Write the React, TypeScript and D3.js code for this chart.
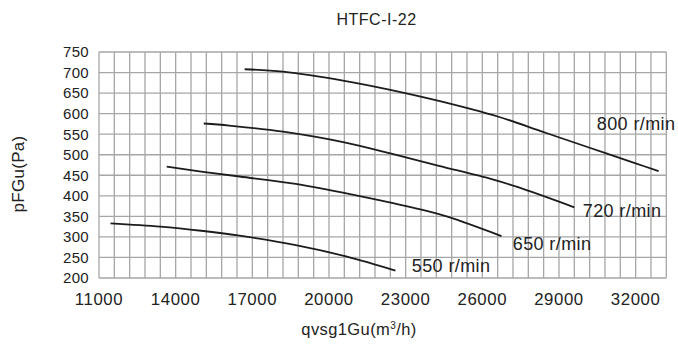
import { useEffect, useRef } from "react";
import * as d3 from "d3";

// fan curves
const speedLabels = ["800 r/min", "720 r/min", "650 r/min", "550 r/min"];

const q800 = [16700, 18200, 20600, 22400, 24300, 26600, 28400, 30200, 32000, 32900];
const p800 = [708, 702, 680, 658, 631, 593, 555, 517, 479, 460];

const q720 = [15100, 16100, 18200, 20600, 22400, 24300, 26400, 27400, 29600];
const p720 = [576, 571, 556, 530, 503, 473, 440, 421, 372];

const q650 = [13650, 15000, 16500, 18700, 21300, 23900, 24700, 26750];
const p650 = [471, 459, 447, 429, 398, 362, 348, 302];

const q550 = [11450, 13400, 15000, 16500, 18700, 20700, 22600];
const p550 = [333, 325, 315, 303, 280, 252, 218];

// where each speed label sits (data units, text start / baseline)
const labelQ = [30480, 29930, 27190, 23240];
const labelP = [560, 349, 267, 215];

const xTicks = [11000, 14000, 17000, 20000, 23000, 26000, 29000, 32000];
const yTicks = [200, 250, 300, 350, 400, 450, 500, 550, 600, 650, 700, 750];

const FONT = "'Liberation Sans', Arial, Helvetica, sans-serif";

export default function App() {
    const svgRef = useRef<SVGSVGElement>(null);

    useEffect(() => {
        if (!svgRef.current) return;
        const width = 678;
        const height = 344;
        const margin = { top: 52, right: 11.7, bottom: 66, left: 99 };

        const svg = d3.select(svgRef.current);
        svg.selectAll("*").remove();
        svg.attr("width", width).attr("height", height);

        const x = d3
            .scaleLinear()
            .domain([11000, 33200])
            .range([margin.left, width - margin.right]);
        const y = d3
            .scaleLinear()
            .domain([200, 750])
            .range([height - margin.bottom, margin.top]);

        // grid
        const grid = svg.append("g").attr("stroke", "#a6a6a6").attr("stroke-width", 1.3);
        d3.range(11000, 33201, 600).forEach((v) => {
            grid.append("line")
                .attr("x1", x(v)).attr("x2", x(v))
                .attr("y1", y(200)).attr("y2", y(750));
        });
        yTicks.forEach((v) => {
            grid.append("line")
                .attr("x1", x(11000)).attr("x2", x(33200))
                .attr("y1", y(v)).attr("y2", y(v));
        });

        // tick labels
        svg.append("g")
            .selectAll("text")
            .data(yTicks)
            .enter()
            .append("text")
            .attr("x", margin.left - 10)
            .attr("y", (d) => y(d))
            .attr("dy", "0.36em")
            .attr("text-anchor", "end")
            .attr("font-family", FONT)
            .attr("font-size", "15px")
            .style("letter-spacing", "0.3px")
            .attr("fill", "#222")
            .text((d) => d);

        svg.append("g")
            .selectAll("text")
            .data(xTicks)
            .enter()
            .append("text")
            .attr("x", (d) => x(d))
            .attr("y", 305)
            .attr("text-anchor", "middle")
            .attr("font-family", FONT)
            .attr("font-size", "16.8px")
            .style("letter-spacing", "0.6px")
            .attr("fill", "#222")
            .text((d) => d);

        // curves
        const series = [
            [q800, p800],
            [q720, p720],
            [q650, p650],
            [q550, p550],
        ];
        const line = d3
            .line<[number, number]>()
            .x((d) => x(d[0]))
            .y((d) => y(d[1]))
            .curve(d3.curveCatmullRom.alpha(0.5));

        series.forEach(([qs, ps], i) => {
            const pts = qs.map((q, j) => [q, ps[j]] as [number, number]);
            svg.append("path")
                .attr("d", line(pts))
                .attr("fill", "none")
                .attr("stroke", "#1c1c1c")
                .attr("stroke-width", 1.8);

            svg.append("text")
                .attr("x", x(labelQ[i]))
                .attr("y", y(labelP[i]))
                .attr("font-family", FONT)
                .attr("font-size", "18px")
                .style("letter-spacing", "0.4px")
                .attr("fill", "#222")
                .text(speedLabels[i]);
        });

        // titles
        svg.append("text")
            .attr("x", 376.5)
            .attr("y", 25)
            .attr("text-anchor", "middle")
            .attr("font-family", FONT)
            .attr("font-size", "16px")
            .style("letter-spacing", "0.5px")
            .attr("fill", "#222")
            .text("HTFC-I-22");

        const xt = svg.append("text")
            .attr("x", 359)
            .attr("y", 335)
            .attr("text-anchor", "middle")
            .attr("font-family", FONT)
            .attr("font-size", "16.5px")
            .style("letter-spacing", "0.4px")
            .attr("fill", "#222");
        xt.append("tspan").text("qvsg1Gu(m");
        xt.append("tspan").attr("font-size", "10px").attr("dy", "-6").text("3");
        xt.append("tspan").attr("dy", "6").text("/h)");

        svg.append("text")
            .attr("transform", "translate(24,174) rotate(-90)")
            .attr("text-anchor", "middle")
            .attr("font-family", FONT)
            .attr("font-size", "17px")
            .style("letter-spacing", "0.3px")
            .attr("fill", "#222")
            .text("pFGu(Pa)");
    }, []);

    return (
        <svg
            ref={svgRef}
            style={{ position: "absolute", left: 0, top: 0, background: "#fff" }}
        ></svg>
    );
}
